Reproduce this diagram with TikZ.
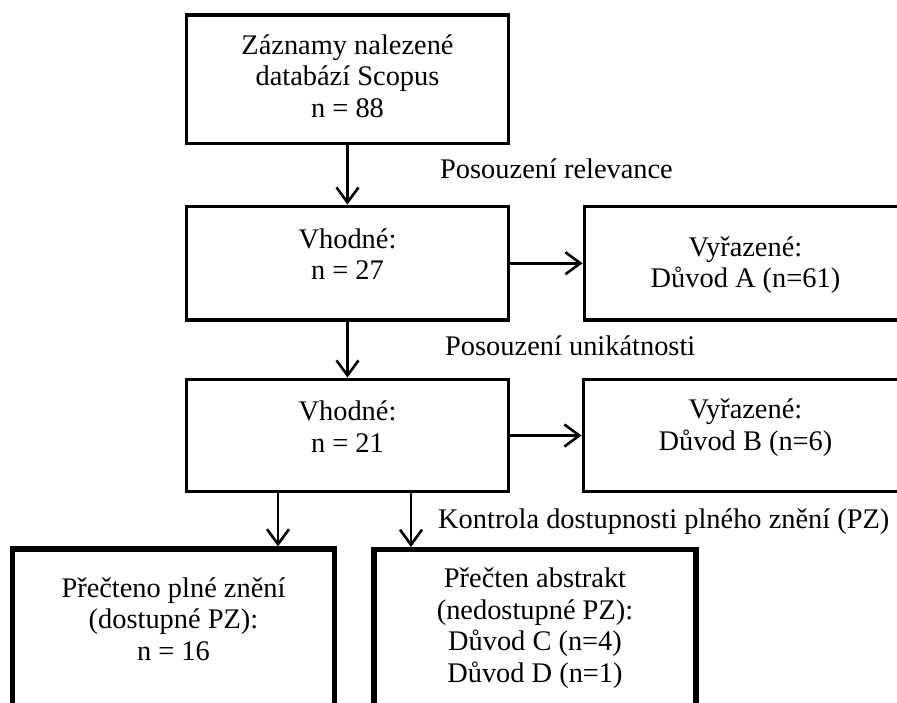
\documentclass[tikz,border=0pt]{standalone}
\usepackage{fontspec}
\setmainfont{Liberation Serif}
\usetikzlibrary{arrows.meta}
\begin{document}
\begin{tikzpicture}[x=1pt,y=-1pt,
  box/.style={draw,line width=3.8pt,rectangle,inner sep=0pt,minimum width=322pt},
  boxthick/.style={draw,line width=5.2pt,rectangle,inner sep=0pt,minimum width=322pt},
  txt/.style={align=center,inner sep=0pt,font=\fontsize{28.4}{31.5}\selectfont},
  lbl/.style={anchor=base west,inner sep=0pt,font=\fontsize{28.4}{31.5}\selectfont},
  arr/.style={line width=2.6pt,-{Straight Barb[length=15pt,width=22pt]}}]
\clip (0,0) rectangle (897,702);
\fill[white] (0,0) rectangle (897,702);

% main column of boxes
\node[box,minimum height=128.5pt] (scopus) at (347.5,79.25) {};
\node[box,minimum height=113.5pt] (vhod1) at (347.5,263.25) {};
\node[box,minimum height=112pt] (vhod2) at (347.5,435.5) {};
% excluded records on the right
\node[box,minimum height=113.5pt] (vyr1) at (745.5,263.25) {};
\node[box,minimum height=112pt] (vyr2) at (744.5,435.5) {};
% bottom row, running past the lower edge
\node[boxthick,minimum height=170pt] (plne) at (173.5,634) {};
\node[boxthick,minimum height=170pt] (abstr) at (535,634.5) {};

% box texts
\node[txt] (t1) at (347.5,76) {Záznamy nalezené\\databází Scopus\\n = 88};
\node[txt] (t2) at (347.5,254) {Vhodné:\\n = 27};
\node[txt] (t3) at (745.5,265) {Vyřazené:\\Důvod A (n=61)};
\node[txt] (t4) at (347.5,426.5) {Vhodné:\\n = 21};
\node[txt] (t5) at (745.5,427.5) {Vyřazené:\\Důvod B (n=6)};
\node[txt] (t6) at (173.5,619) {Přečteno plné znění\\(dostupné PZ):\\n = 16};
\node[txt] (t7) at (535,628) {Přečten abstrakt\\(nedostupné PZ):\\Důvod C (n=4)\\Důvod D (n=1)};

% step labels
\node[lbl] (l1) at (440,178) {Posouzení relevance};
\node[lbl] (l2) at (445,355) {Posouzení unikátnosti};
\node[lbl] (l3) at (438,528) {Kontrola dostupnosti plného znění (PZ)};

% connectors
\draw[arr] (scopus.south) -- (vhod1.north);
\draw[arr] (vhod1.south) -- (vhod2.north);
\draw[arr] (vhod1.east) -- (vyr1.west);
\draw[arr] (vhod2.east) -- (vyr2.west);
\coordinate (d1) at (278,0);
\coordinate (d2) at (411,0);
\draw[arr] (vhod2.south -| d1) -- (plne.north -| d1);
\draw[arr] (vhod2.south -| d2) -- (abstr.north -| d2);
\end{tikzpicture}
\end{document}
